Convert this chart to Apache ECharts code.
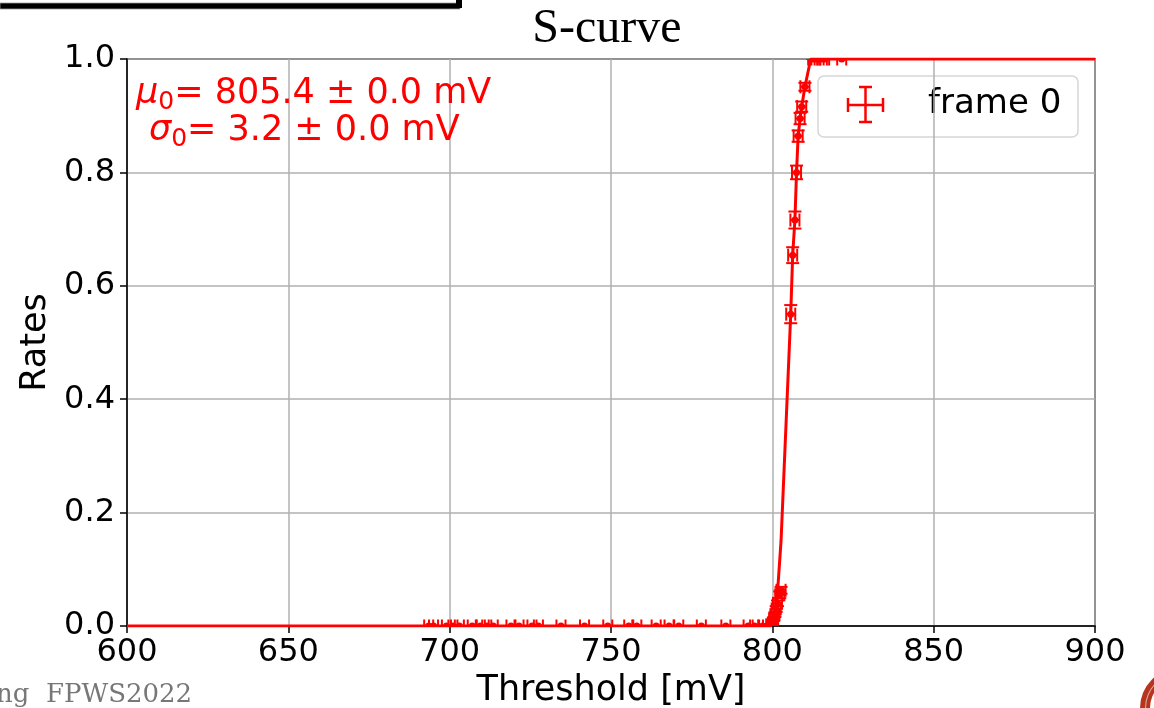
<!DOCTYPE html>
<html>
<head>
<meta charset="utf-8">
<title>S-curve</title>
<script src="https://cdn.jsdelivr.net/npm/echarts@6/dist/echarts.min.js"></script>
<style>
  html, body { margin: 0; padding: 0; background: #fff; }
  #chart { width: 1154px; height: 708px; }
</style>
</head>
<body>
<div id="chart"></div>
<script>
// Measured thresholds [mV] and hit rates for frame 0
const thresholds = [
  693.5, 695, 699, 701, 703, 707, 709.5, 711.5, 713.5, 719, 721.5, 725.5, 727.5,
  734.5, 741.8, 749, 755.5, 758, 764, 768, 771, 778, 785.6, 792.5, 794.5, 797, 798.5,
  799.5, 800.0, 800.4, 800.8, 801.2, 801.6, 802.3, 802.7,
  805.7, 806.3, 807.0, 807.5, 808.0, 808.6, 809.1, 810.1,
  812.5, 813.5, 814.5, 815.5, 816.2, 821.5
];
const rates = [
  0, 0, 0, 0, 0, 0, 0, 0, 0, 0, 0, 0, 0,
  0, 0, 0, 0, 0, 0, 0, 0, 0, 0, 0, 0, 0, 0,
  0.002, 0.005, 0.012, 0.02, 0.03, 0.04, 0.055, 0.063,
  0.55, 0.654, 0.716, 0.80, 0.864, 0.895, 0.916, 0.951,
  1, 1, 1, 1, 1, 1
];
const rateErrors = [
  0, 0, 0, 0, 0, 0, 0, 0, 0, 0, 0, 0, 0,
  0, 0, 0, 0, 0, 0, 0, 0, 0, 0, 0, 0, 0, 0,
  0.001, 0.002, 0.003, 0.004, 0.005, 0.005, 0.006, 0.006,
  0.016, 0.014, 0.015, 0.012, 0.010, 0.010, 0.009, 0.007,
  0, 0, 0, 0, 0, 0
];
const thresholdError = 1.4;

// Fitted error-function curve, sampled
const fitThresholds = [600, 799.5, 800.5, 801.5, 802.7, 805.7, 806.3, 807.0, 807.5, 808.0, 808.6, 809.1, 810.1, 811.9, 900];
const fitRates      = [0,   0,     0.01,  0.05,  0.15,  0.55,  0.654, 0.716, 0.80,  0.864, 0.895, 0.916, 0.951, 1.0,   1.0];

// Axis ticks
const xTicks = [600, 650, 700, 750, 800, 850, 900];
const yTicks = [0.0, 0.2, 0.4, 0.6, 0.8, 1.0];

const fitResult = { mu: '805.4', muErr: '0.0', sigma: '3.2', sigmaErr: '0.0' };
const legendLabel = 'frame 0';

const RED = '#ff0000';
const SANS = 'DejaVu Sans';

const points = thresholds.map((t, i) => [t, rates[i], thresholdError, rateErrors[i]]);
const fitLine = fitThresholds.map((t, i) => [t, fitRates[i]]);

const chart = echarts.init(document.getElementById('chart'), null, { renderer: 'canvas' });

function errorBarItem(params, api) {
  const x = api.value(0), y = api.value(1), xe = api.value(2), ye = api.value(3);
  const c = api.coord([x, y]);
  const l = api.coord([x - xe, y]);
  const r = api.coord([x + xe, y]);
  const t = api.coord([x, y + ye]);
  const b = api.coord([x, y - ye]);
  const cap = 6.5;
  const style = { stroke: RED, lineWidth: 2 };
  const seg = (x1, y1, x2, y2) => ({ type: 'line', shape: { x1, y1, x2, y2 }, style });
  return {
    type: 'group',
    children: [
      seg(l[0], c[1], r[0], c[1]),
      seg(l[0], c[1] - cap, l[0], c[1] + cap),
      seg(r[0], c[1] - cap, r[0], c[1] + cap),
      seg(c[0], t[1], c[0], b[1]),
      seg(c[0] - cap, t[1], c[0] + cap, t[1]),
      seg(c[0] - cap, b[1], c[0] + cap, b[1]),
      { type: 'circle', shape: { cx: c[0], cy: c[1], r: 3.5 }, style: { fill: RED } }
    ]
  };
}

const option = {
  backgroundColor: '#ffffff',
  animation: false,
  grid: {
    left: 127, right: 59, top: 59, bottom: 82,
    outerBoundsMode: 'none',
    containLabel: false,
    show: true, borderColor: '#000', borderWidth: 1.5, backgroundColor: 'transparent'
  },
  xAxis: {
    type: 'value',
    min: xTicks[0], max: xTicks[xTicks.length - 1], interval: xTicks[1] - xTicks[0],
    name: 'Threshold [mV]',
    nameLocation: 'middle',
    nameGap: 47,
    nameTextStyle: { fontFamily: SANS, fontSize: 35, color: '#000' },
    axisLine: { show: true, onZero: false, lineStyle: { color: '#000', width: 1.5 } },
    axisTick: { show: true, length: 7, lineStyle: { color: '#000', width: 1.5 } },
    axisLabel: { fontFamily: SANS, fontSize: 32, color: '#000', margin: 11 },
    splitLine: { show: true, lineStyle: { color: '#b0b0b0', width: 1.5 } }
  },
  yAxis: {
    type: 'value',
    min: yTicks[0], max: yTicks[yTicks.length - 1], interval: 0.2,
    name: 'Rates',
    nameLocation: 'middle',
    nameGap: 74,
    nameRotate: 90,
    nameTextStyle: { fontFamily: SANS, fontSize: 35, color: '#000' },
    axisLine: { show: true, onZero: false, lineStyle: { color: '#000', width: 1.5 } },
    axisTick: { show: true, length: 7, lineStyle: { color: '#000', width: 1.5 } },
    axisLabel: { fontFamily: SANS, fontSize: 32, color: '#000', margin: 12, formatter: v => v.toFixed(1) },
    splitLine: { show: true, lineStyle: { color: '#b0b0b0', width: 1.5 } }
  },
  series: [
    {
      type: 'line',
      data: fitLine,
      showSymbol: false,
      lineStyle: { color: RED, width: 3 },
      z: 3
    },
    {
      type: 'custom',
      data: points,
      renderItem: errorBarItem,
      encode: { x: 0, y: 1 },
      clip: true,
      z: 4
    }
  ],
  graphic: [
    // title
    {
      type: 'text', x: 607, y: 29, z: 10,
      style: { text: 'S-curve', fontFamily: 'Liberation Serif', fontSize: 48, fill: '#000',
               align: 'center', verticalAlign: 'middle' }
    },
    // fit result annotation
    {
      type: 'text', x: 136, y: 94, z: 10,
      style: {
        text: '{mu|μ}{sub|0}= ' + fitResult.mu + ' ± ' + fitResult.muErr + ' mV',
        fill: RED, fontFamily: SANS, fontSize: 35, verticalAlign: 'middle',
        rich: {
          mu: { fontFamily: SANS, fontStyle: 'italic', fontSize: 35, fill: RED },
          sub: { fontFamily: SANS, fontSize: 25, fill: RED, padding: [16, 0, 0, 0] }
        }
      }
    },
    {
      type: 'text', x: 149, y: 131, z: 10,
      style: {
        text: '{sg|σ}{sub|0}= ' + fitResult.sigma + ' ± ' + fitResult.sigmaErr + ' mV',
        fill: RED, fontFamily: SANS, fontSize: 35, verticalAlign: 'middle',
        rich: {
          sg: { fontFamily: SANS, fontStyle: 'italic', fontSize: 35, fill: RED },
          sub: { fontFamily: SANS, fontSize: 25, fill: RED, padding: [16, 0, 0, 0] }
        }
      }
    },
    // legend
    {
      type: 'group', z: 20,
      children: [
        { type: 'rect', shape: { x: 818, y: 76, width: 260, height: 61, r: 6 },
          style: { fill: 'rgba(255,255,255,0.8)', stroke: '#d6d6d6', lineWidth: 1.5 } },
        { type: 'line', shape: { x1: 848, y1: 105, x2: 883, y2: 105 }, style: { stroke: RED, lineWidth: 2.5 } },
        { type: 'line', shape: { x1: 848, y1: 98, x2: 848, y2: 112 }, style: { stroke: RED, lineWidth: 2.5 } },
        { type: 'line', shape: { x1: 883, y1: 98, x2: 883, y2: 112 }, style: { stroke: RED, lineWidth: 2.5 } },
        { type: 'line', shape: { x1: 865.5, y1: 87, x2: 865.5, y2: 122 }, style: { stroke: RED, lineWidth: 2.5 } },
        { type: 'line', shape: { x1: 859, y1: 87, x2: 872, y2: 87 }, style: { stroke: RED, lineWidth: 2.5 } },
        { type: 'line', shape: { x1: 859, y1: 122, x2: 872, y2: 122 }, style: { stroke: RED, lineWidth: 2.5 } },
        { type: 'text', x: 928, y: 104,
          style: { text: legendLabel, fontFamily: SANS, fontSize: 34, fill: '#000', verticalAlign: 'middle' } }
      ]
    },
    // slide frame pieces around the figure
    { type: 'rect', shape: { x: 0, y: 3, width: 460, height: 6 }, style: { fill: '#000', stroke: '#999', lineWidth: 0.8 }, z: 30 },
    { type: 'rect', shape: { x: 456, y: 0, width: 6, height: 8 }, style: { fill: '#000' }, z: 30 },
    { type: 'text', x: -4, y: 695, z: 30,
      style: { text: 'ng  FPWS2022', fontFamily: 'DejaVu Serif', fontSize: 26, fill: '#777777', verticalAlign: 'middle' } },
    { type: 'ring', shape: { cx: 1180, cy: 708, r: 40, r0: 30 }, style: { fill: '#b5361c' }, z: 30 },
    { type: 'ring', shape: { cx: 1180, cy: 708, r: 35, r0: 34 }, style: { fill: 'rgba(255,255,255,0.6)' }, z: 31 }
  ]
};

chart.setOption(option);
</script>
</body>
</html>
